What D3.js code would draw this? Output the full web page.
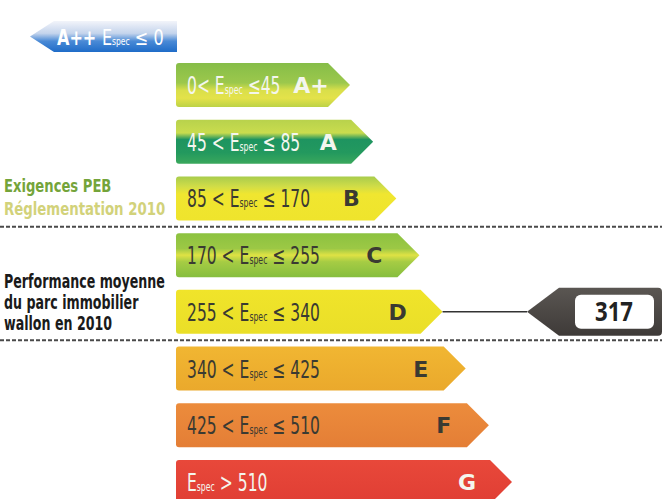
<!DOCTYPE html>
<html>
<head>
<meta charset="utf-8">
<script src="https://cdn.jsdelivr.net/npm/d3@7"></script>
<style>
  html, body { margin: 0; padding: 0; background: #fff; }
  svg { display: block; }
  .cond { font-family: "DejaVu Sans Condensed", "DejaVu Sans", sans-serif; }
</style>
</head>
<body>
<div id="chart"></div>
<script>
// Energy classes and their Espec bounds (kWh/m².an)
const classes = ['A+', 'A', 'B', 'C', 'D', 'E', 'F', 'G'];
const lowerBounds = [0, 45, 85, 170, 255, 340, 425, 510];
const upperBounds = [45, 85, 170, 255, 340, 425, 510, null];
const topClass = 'A++';
const topBound = 0;
const averageValue = 317;
const requirementLines = ['Exigences PEB', 'Réglementation 2010'];
const averageLines = ['Performance moyenne', 'du parc immobilier', 'wallon en 2010'];

document.addEventListener('DOMContentLoaded', function() {
  drawLabel();
});

/**
 * Colour stops for each class bar (stripes of the scanned label)
 */
function classStops(c) {
  switch (c) {
    case 'A+': return [['0%', '#86bd48'], ['45%', '#9cc84c'], ['62%', '#d9df4a'], ['80%', '#e4e24a'], ['100%', '#bcd246']];
    case 'A': return [['0%', '#b8d24c'], ['30%', '#c9dc4e'], ['45%', '#1e9460'], ['75%', '#23995e'], ['100%', '#3aa85c']];
    case 'B': return [['0%', '#a8cc4c'], ['22%', '#cfdc48'], ['40%', '#f0e630'], ['100%', '#efe42c']];
    case 'C': return [['0%', '#8cc240'], ['35%', '#9cc845'], ['50%', '#dfe244'], ['65%', '#a6cc44'], ['100%', '#86be3e']];
    case 'D': return [['0%', '#f0e42a'], ['100%', '#eadf28']];
    case 'E': return [['0%', '#f1b632'], ['100%', '#eaa92c']];
    case 'F': return [['0%', '#ec8c3c'], ['100%', '#e47e36']];
    default: return [['0%', '#e8483a'], ['100%', '#e03e34']];
  }
}

function textColor(c) {
  return (c === 'A+' || c === 'A' || c === 'G') ? '#f4f6ee' : '#3a3a32';
}

// squeeze text horizontally to mimic the condensed face of the original
function squeeze(x, yv, sx) {
  return `translate(${x},${yv}) scale(${sx},1)`;
}

function drawLabel() {
  const width = 662;
  const height = 499;

  const svg = d3.select('#chart')
    .append('svg')
    .attr('width', width)
    .attr('height', height);

  const defs = svg.append('defs');

  // Band scale for the class rows, linear scale for how far each arrow reaches
  const y = d3.scaleBand()
    .domain(classes)
    .range([63, 504])
    .paddingInner(0.224);

  const tipX = d3.scaleLinear()
    .domain([0, classes.length - 1])
    .range([350, 512]);

  const left = 176;
  const point = 22;
  const h = y.bandwidth();

  classes.forEach(function(c, i) {
    const g = defs.append('linearGradient')
      .attr('id', 'grad' + i)
      .attr('x1', 0).attr('y1', 0).attr('x2', 0).attr('y2', 1);
    classStops(c).forEach(s => g.append('stop').attr('offset', s[0]).attr('stop-color', s[1]));
  });

  const blue = defs.append('linearGradient')
    .attr('id', 'gradTop')
    .attr('x1', 0).attr('y1', 0).attr('x2', 0).attr('y2', 1);
  blue.append('stop').attr('offset', '0%').attr('stop-color', '#f2f4fa');
  blue.append('stop').attr('offset', '40%').attr('stop-color', '#c4d4ec');
  blue.append('stop').attr('offset', '65%').attr('stop-color', '#4a8ad6');
  blue.append('stop').attr('offset', '100%').attr('stop-color', '#1f6cc8');

  const dark = defs.append('linearGradient')
    .attr('id', 'gradDark')
    .attr('x1', 0).attr('y1', 0).attr('x2', 0).attr('y2', 1);
  dark.append('stop').attr('offset', '0%').attr('stop-color', '#5a5652');
  dark.append('stop').attr('offset', '100%').attr('stop-color', '#3e3a38');

  // A++ arrow pointing left
  const topY = 21, topH = 31, topLeft = 30, topRight = 177;
  svg.append('path')
    .attr('d', `M${topLeft},${topY + topH / 2} L${topLeft + 24},${topY} L${topRight},${topY} L${topRight},${topY + topH} L${topLeft + 24},${topY + topH} Z`)
    .style('fill', 'url(#gradTop)');

  const topText = svg.append('text')
    .attr('class', 'cond')
    .attr('transform', squeeze(57, topY + 24, 0.85))
    .style('font-size', '21px')
    .style('font-weight', 'bold')
    .style('fill', '#ffffff');
  topText.append('tspan').text(topClass + ' ');
  topText.append('tspan').style('font-weight', 'normal').text('E');
  topText.append('tspan').style('font-size', '10px').style('font-weight', 'normal').text('spec');
  topText.append('tspan').style('font-weight', 'normal').text(' ≤ ' + topBound);

  // Class bars
  const rows = svg.append('g')
    .selectAll('g')
    .data(classes)
    .enter()
    .append('g');

  rows.append('path')
    .attr('d', function(c, i) {
      const t = y(c), tx = tipX(i);
      return `M${left + 3},${t} L${tx - point},${t} L${tx},${t + h / 2} L${tx - point},${t + h} L${left + 3},${t + h} Q${left},${t + h} ${left},${t + h - 3} L${left},${t + 3} Q${left},${t} ${left + 3},${t} Z`;
    })
    .style('fill', (c, i) => 'url(#grad' + i + ')');

  // Range label: "lo < Espec ≤ hi" (first class printed tight, as on the label)
  const sp = i => i === 0 ? '' : ' ';
  const range = rows.append('text')
    .attr('class', 'cond')
    .attr('transform', c => squeeze(187, y(c) + h / 2 + 9, 0.72))
    .style('font-size', '24px')
    .style('fill', c => textColor(c));

  range.append('tspan').text((c, i) => upperBounds[i] === null ? '' : lowerBounds[i] + sp(i) + '< ');
  range.append('tspan').text('E');
  range.append('tspan').style('font-size', '12px').text('spec');
  range.append('tspan').text((c, i) => upperBounds[i] === null ? ' > ' + lowerBounds[i] : ' ≤' + sp(i) + upperBounds[i]);

  // Class letter
  rows.append('text')
    .attr('x', (c, i) => tipX(i) - (i === 0 ? 39 : 45))
    .attr('y', c => y(c) + h / 2 + 8)
    .attr('text-anchor', 'middle')
    .style('font-family', '"DejaVu Sans", sans-serif')
    .style('font-size', '22px')
    .style('font-weight', 'bold')
    .style('fill', c => textColor(c))
    .text(c => c);

  // Dashed separators (regulation level and average park level)
  const sepB = y('B') + h + (y('C') - y('B') - h) / 2;
  const sepD = y('D') + h + (y('E') - y('D') - h) / 2;
  svg.append('g')
    .selectAll('line')
    .data([sepB, sepD])
    .enter()
    .append('line')
    .attr('x1', 0).attr('x2', width)
    .attr('y1', d => d).attr('y2', d => d)
    .style('stroke', '#4a4a4a')
    .style('stroke-width', 2)
    .style('stroke-dasharray', '4,2');

  // Left-side captions
  svg.append('g')
    .selectAll('text')
    .data(requirementLines)
    .enter()
    .append('text')
    .attr('class', 'cond')
    .attr('transform', (d, i) => squeeze(4, y('B') + 16 + i * 23, i === 0 ? 0.86 : 0.87))
    .style('font-size', '17px')
    .style('font-weight', 'bold')
    .style('fill', (d, i) => i === 0 ? '#74a43a' : '#d2d27a')
    .text(d => d);

  svg.append('g')
    .selectAll('text')
    .data(averageLines)
    .enter()
    .append('text')
    .attr('class', 'cond')
    .attr('transform', (d, i) => squeeze(4, y('D') - 2 + i * 21, 0.74))
    .style('font-size', '19px')
    .style('font-weight', 'bold')
    .style('fill', '#1a1a1a')
    .text(d => d);

  // Average marker, linked to the class it falls in
  const idx = classes.findIndex((c, i) => averageValue > lowerBounds[i] && (upperBounds[i] === null || averageValue <= upperBounds[i]));
  const cls = classes[idx];
  const my = y(cls) + h / 2;
  const mx = 527;

  svg.append('line')
    .attr('x1', tipX(idx)).attr('x2', mx)
    .attr('y1', my).attr('y2', my)
    .style('stroke', '#333')
    .style('stroke-width', 1.5);

  const mh = 48;
  svg.append('path')
    .attr('d', `M${mx},${my} L${mx + 32},${my - mh / 2} L${width - 4},${my - mh / 2} Q${width},${my - mh / 2} ${width},${my - mh / 2 + 4} L${width},${my + mh / 2 - 4} Q${width},${my + mh / 2} ${width - 4},${my + mh / 2} L${mx + 32},${my + mh / 2} Z`)
    .style('fill', 'url(#gradDark)');

  svg.append('rect')
    .attr('x', 575).attr('y', my - 17)
    .attr('width', 79).attr('height', 34)
    .attr('rx', 6)
    .style('fill', '#ffffff');

  svg.append('text')
    .attr('transform', squeeze(614, my + 9, 0.85))
    .attr('text-anchor', 'middle')
    .style('font-family', '"Open Sans", sans-serif')
    .style('font-size', '26px')
    .style('font-weight', 'bold')
    .style('fill', '#222')
    .text(averageValue);
}
</script>
</body>
</html>
